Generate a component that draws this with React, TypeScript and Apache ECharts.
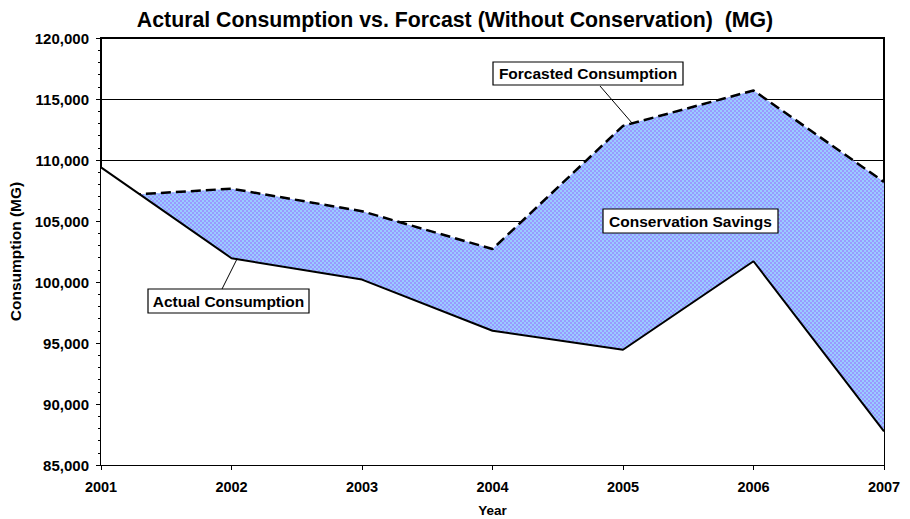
import React, { useEffect, useRef } from "react";
import * as echarts from "echarts";

const years = ["2001", "2002", "2003", "2004", "2005", "2006", "2007"];
const forecast = [107000, 107650, 105800, 102700, 112800, 115700, 108200];
const actual = [109400, 101950, 100200, 96000, 94450, 101700, 87750];
const yMin = 85000;
const yMax = 120000;
const yStep = 5000;

const FONT = '"Liberation Sans", Arial, sans-serif';

function makePattern(): HTMLCanvasElement {
  const c = document.createElement("canvas");
  c.width = 4;
  c.height = 4;
  const ctx = c.getContext("2d")!;
  ctx.fillStyle = "#99ccff";
  ctx.fillRect(0, 0, 4, 4);
  ctx.fillStyle = "#9999ff";
  ctx.fillRect(0, 0, 2, 2);
  ctx.fillRect(2, 2, 2, 2);
  return c;
}

function box(id: string, text: string, x: number, y: number, w: number, h: number) {
  return [
    {
      type: "rect",
      id: id + "-r",
      z: 100,
      shape: { x, y, width: w, height: h },
      style: { fill: "#fff", stroke: "#000", lineWidth: 1.2 },
    },
    {
      type: "text",
      id: id + "-t",
      z: 101,
      x: x + w / 2,
      y: y + h / 2,
      style: {
        text,
        fill: "#000",
        font: `bold 15.5px ${FONT}`,
        align: "center",
        verticalAlign: "middle",
      },
    },
  ];
}

export default function App() {
  const ref = useRef<HTMLDivElement>(null);
  useEffect(() => {
    document.body.style.margin = "0";
    const chart = echarts.init(ref.current!, null, { renderer: "svg" });
    const pattern = makePattern();
    chart.setOption({
      animation: false,
      backgroundColor: "#fff",
      title: {
        text: "Actural Consumption vs. Forcast (Without Conservation)  (MG)",
        left: "center",
        top: 4,
        textStyle: { fontFamily: FONT, fontWeight: "bold", fontSize: 21.3, color: "#000" },
      },
      grid: {
        left: 101,
        right: 26,
        top: 38,
        bottom: 54,
        outerBoundsMode: "none",
        containLabel: false,
        show: true,
        borderColor: "#000",
        borderWidth: 2,
        backgroundColor: "transparent",
      },
      xAxis: {
        type: "category",
        data: years,
        boundaryGap: false,
        name: "Year",
        nameLocation: "middle",
        nameGap: 38,
        nameTextStyle: { fontFamily: FONT, fontWeight: "bold", fontSize: 13.5, color: "#000" },
        axisLine: { lineStyle: { color: "#000", width: 2 } },
        axisTick: { show: true, length: 5, lineStyle: { color: "#000", width: 1 } },
        axisLabel: { fontFamily: FONT, fontWeight: "bold", fontSize: 14.5, color: "#000", margin: 14 },
        splitLine: { show: false },
      },
      yAxis: {
        type: "value",
        min: yMin,
        max: yMax,
        interval: yStep,
        name: "Consumption (MG)",
        nameLocation: "middle",
        nameGap: 74,
        nameRotate: 90,
        nameTextStyle: { fontFamily: FONT, fontWeight: "bold", fontSize: 15.5, color: "#000" },
        axisLine: { show: true, lineStyle: { color: "#000", width: 2 } },
        axisTick: { show: true, length: 5, lineStyle: { color: "#000", width: 1 } },
        minorTick: { show: true, splitNumber: 5, length: 3, lineStyle: { color: "#000", width: 1 } },
        axisLabel: {
          fontFamily: FONT,
          fontWeight: "bold",
          fontSize: 15,
          color: "#000",
          margin: 12,
          formatter: (v: number) => v.toLocaleString("en-US"),
        },
        splitLine: { show: true, lineStyle: { color: "#000", width: 1 } },
      },
      series: [
        {
          name: "Forcasted Consumption",
          type: "line",
          z: 2,
          data: forecast,
          symbol: "none",
          lineStyle: { color: "#000", width: 2.5, type: [10, 5] },
          areaStyle: { origin: "start", color: { image: pattern, repeat: "repeat" }, opacity: 1 },
        },
        {
          name: "Actual Consumption",
          type: "line",
          z: 3,
          data: actual,
          symbol: "none",
          lineStyle: { color: "#000", width: 2 },
          areaStyle: { origin: "start", color: "#fff", opacity: 1 },
        },
      ],
      graphic: [
        { type: "line", id: "l1", z: 99, shape: { x1: 600, y1: 86, x2: 632, y2: 123 }, style: { stroke: "#000", lineWidth: 1 } },
        { type: "line", id: "l2", z: 99, shape: { x1: 222, y1: 289, x2: 237, y2: 259 }, style: { stroke: "#000", lineWidth: 1 } },
        ...box("b1", "Forcasted Consumption", 493, 62, 190, 23),
        ...box("b2", "Actual Consumption", 148, 289, 161, 24),
        ...box("b3", "Conservation Savings", 603, 209, 175, 24),
      ],
    });
    return () => chart.dispose();
  }, []);
  return <div ref={ref} style={{ width: 910, height: 519 }} />;
}
